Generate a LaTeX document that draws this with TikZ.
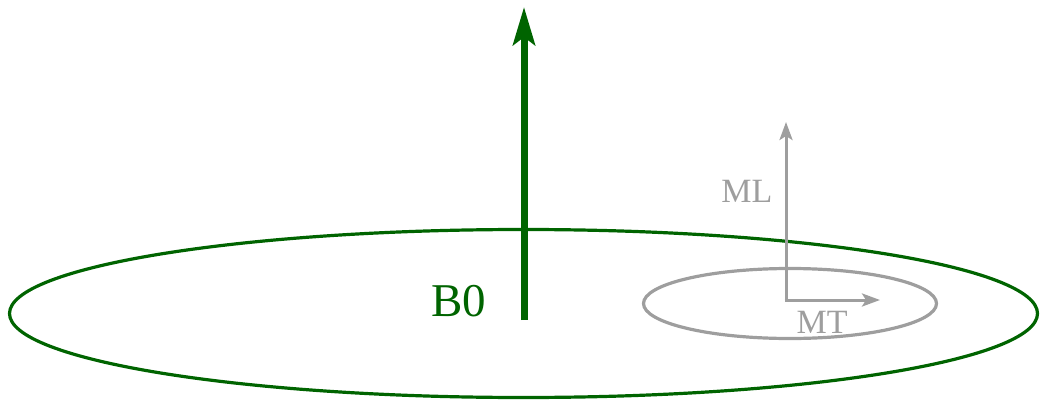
\documentclass[tikz,border=0pt]{standalone}
\usepackage{fontspec}
\setmainfont{Liberation Serif}
\usetikzlibrary{positioning, arrows.meta, shapes.geometric}

\definecolor{fieldgreen}{RGB}{0,100,0}
\definecolor{maggray}{RGB}{158,158,158}

\begin{document}
\begin{tikzpicture}[x=1pt, y=-1pt,
    orbit/.style={draw, ellipse, inner sep=0pt, line width=3.2pt},
    bigarrow/.style={-{Stealth[length=38pt, width=22pt, inset=8pt]}, line width=7pt, fieldgreen},
    smallarrow/.style={-{Stealth[length=18pt, width=13pt, inset=4pt]}, line width=3pt, maggray}]
        \useasboundingbox (0,0) rectangle (1040,403);
        \node (disk) [orbit, fieldgreen, minimum width=1028pt, minimum height=168pt] at (523.5,313.5) {};
        \node (cone) [orbit, maggray, minimum width=293pt, minimum height=70pt] at (790,303.5) {};
        \coordinate (bbase) at (524,320);
        \coordinate (btip) at (524,7);
        \coordinate (morig) at (786,300);
        \coordinate (mltip) at (786,122);
        \coordinate (mttip) at (880,300);
        \draw [bigarrow] (bbase) -- (btip);
        \draw [smallarrow] (morig) -- (mltip);
        \draw [smallarrow, shorten <=-1.5pt] (morig) -- (mttip);
        \node (b0) [fieldgreen, font=\fontsize{47}{47}\selectfont, anchor=base east] at (490,316) {B0};
        \node (ml) [maggray, font=\fontsize{34}{34}\selectfont, anchor=base east] at (776,203) {ML};
        \node (mt) [maggray, font=\fontsize{34}{34}\selectfont, anchor=base west] at (793,333) {MT};
    \end{tikzpicture}
\end{document}
